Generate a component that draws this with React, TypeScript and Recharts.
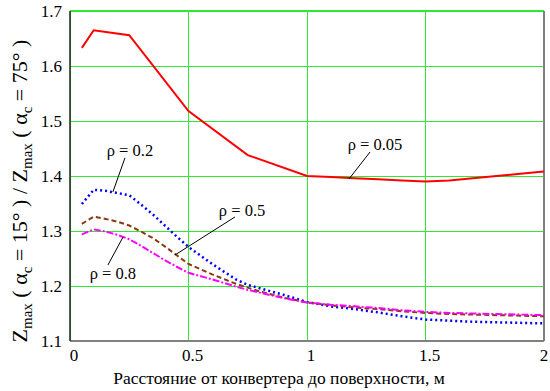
import React from "react";
import {
  CartesianGrid,
  Line,
  LineChart,
  ReferenceDot,
  ReferenceLine,
  XAxis,
  YAxis
} from "recharts";

// distance from converter to surface, m
const distRed = [0.05, 0.1, 0.25, 0.5, 0.75, 1.0, 1.1, 1.2, 1.3, 1.4, 1.5, 1.6, 1.7, 1.8, 1.9, 2.0];
const zRho005 = [1.633, 1.665, 1.656, 1.518, 1.438, 1.4, 1.398, 1.396, 1.394, 1.392, 1.39, 1.392, 1.396, 1.4, 1.404, 1.408];

const dist = [
  0.05, 0.1, 0.15, 0.2, 0.25, 0.3, 0.35, 0.4, 0.45, 0.5, 0.6, 0.7, 0.75, 0.8, 0.9, 1.0,
  1.1, 1.2, 1.3, 1.4, 1.5, 1.6, 1.7, 1.8, 1.9, 2.0
];
const zRho02 = [
  1.349, 1.375, 1.373, 1.369, 1.365, 1.348, 1.33, 1.31, 1.29, 1.271, 1.24, 1.212, 1.202, 1.196, 1.184, 1.171,
  1.163, 1.158, 1.152, 1.145, 1.139, 1.137, 1.135, 1.134, 1.133, 1.132
];
const zRho05 = [
  1.313, 1.326, 1.322, 1.317, 1.31, 1.299, 1.287, 1.272, 1.256, 1.24, 1.221, 1.204, 1.197, 1.19, 1.179, 1.17,
  1.165, 1.161, 1.158, 1.154, 1.151, 1.149, 1.148, 1.147, 1.146, 1.145
];
const zRho08 = [
  1.294, 1.303, 1.299, 1.293, 1.285, 1.273, 1.26, 1.247, 1.235, 1.224, 1.212, 1.199, 1.193, 1.188, 1.178, 1.17,
  1.166, 1.163, 1.16, 1.156, 1.153, 1.151, 1.15, 1.149, 1.148, 1.147
];

const xTicks = [0, 0.5, 1, 1.5, 2];
const yTicks = [1.1, 1.2, 1.3, 1.4, 1.5, 1.6, 1.7];

// label text, text anchor point, leader line start/end
const notes = [
  { text: "ρ = 0.2", at: [0.253, 1.447], from: [0.232, 1.433], to: [0.181, 1.371] },
  { text: "ρ = 0.5", at: [0.726, 1.337], from: [0.696, 1.3255], to: [0.443, 1.2564] },
  { text: "ρ = 0.8", at: [0.181, 1.2227], from: [0.16, 1.2382], to: [0.224, 1.2891] },
  { text: "ρ = 0.05", at: [1.287, 1.4564], from: [1.266, 1.4436], to: [1.177, 1.3945] }
];

const toPoints = (xs: number[], ys: number[]) => xs.map((x, i) => ({ x, y: ys[i] }));

const FONT = "Liberation Serif, Times New Roman, DejaVu Serif, serif";
const GREEN = "#30e830";

const series = [
  { key: "r005", data: toPoints(distRed, zRho005), color: "#ff0000", dash: undefined, width: 2 },
  { key: "r02", data: toPoints(dist, zRho02), color: "#0000ff", dash: "2 3", width: 2.5 },
  { key: "r05", data: toPoints(dist, zRho05), color: "#8b3a0f", dash: "5 3", width: 2 },
  { key: "r08", data: toPoints(dist, zRho08), color: "#ff00ff", dash: "7 2 2 2", width: 2 }
];

function YTitle({ viewBox }: any) {
  const cy = viewBox.y + viewBox.height / 2 + 15;
  const main = 22;
  const sub = 15;
  return (
    <text
      transform={`translate(27, ${cy}) rotate(-90)`}
      textAnchor="middle"
      style={{ fontFamily: FONT, fontSize: main }}
      fill="#000"
    >
      <tspan>Z</tspan>
      <tspan style={{ fontSize: sub }} dy={5}>max</tspan>
      <tspan dy={-5}> ( </tspan>
      <tspan>α</tspan>
      <tspan style={{ fontSize: sub }} dy={5}>c</tspan>
      <tspan dy={-5}> = 15° ) / </tspan>
      <tspan>Z</tspan>
      <tspan style={{ fontSize: sub }} dy={5}>max</tspan>
      <tspan dy={-5}> ( </tspan>
      <tspan>α</tspan>
      <tspan style={{ fontSize: sub }} dy={5}>c</tspan>
      <tspan dy={-5}> = 75° )</tspan>
    </text>
  );
}

function XTitle({ viewBox }: any) {
  return (
    <text
      x={viewBox.x + viewBox.width / 2 - 28}
      y={viewBox.y + 43}
      textAnchor="middle"
      style={{ fontFamily: FONT, fontSize: 17.5 }}
      fill="#000"
    >
      Расстояние от конвертера до поверхности, м
    </text>
  );
}

function XTick({ x, y, payload, index }: any) {
  // last label sits right on the edge; keep it inside the picture
  const shift = index === xTicks.length - 1 ? 0 : 4;
  return (
    <text x={x + shift} y={y} dy="0.71em" textAnchor="middle" style={{ fontFamily: FONT, fontSize: 17 }} fill="#000">
      {payload.value}
    </text>
  );
}

function YTick({ x, y, payload }: any) {
  return (
    <text x={x} y={y} dy="0.355em" textAnchor="end" style={{ fontFamily: FONT, fontSize: 17 }} fill="#000">
      {payload.value.toFixed(1)}
    </text>
  );
}

export default function App() {
  return (
    <div style={{ position: "absolute", left: 0, top: 0, background: "#fff" }}>
      <LineChart width={550} height={391} margin={{ top: 11, right: 6, bottom: 20, left: 0 }}>
        <CartesianGrid stroke={GREEN} strokeWidth={1} shapeRendering="crispEdges" />
        <XAxis
          type="number"
          dataKey="x"
          domain={[0, 2]}
          ticks={xTicks}
          allowDuplicatedCategory={false}
          height={30}
          tickLine={false}
          axisLine={{ stroke: "#808080", strokeWidth: 2 }}
          tick={<XTick />}
          label={<XTitle />}
        />
        <YAxis
          type="number"
          domain={[1.1, 1.7]}
          ticks={yTicks}
          width={70}
          tickLine={false}
          axisLine={{ stroke: "#222", strokeWidth: 1.5 }}
          tick={<YTick />}
          label={<YTitle />}
        />
        <ReferenceLine y={1.7} stroke={GREEN} strokeWidth={2} />
        <ReferenceLine x={2} stroke="#808080" strokeWidth={2} />
        {series.map((s) => (
          <Line
            key={s.key}
            data={s.data}
            dataKey="y"
            type="linear"
            stroke={s.color}
            strokeWidth={s.width}
            strokeDasharray={s.dash}
            dot={false}
            isAnimationActive={false}
          />
        ))}
        {notes.map((n) => (
          <ReferenceLine
            key={"l" + n.text}
            segment={[
              { x: n.from[0], y: n.from[1] },
              { x: n.to[0], y: n.to[1] }
            ]}
            stroke="#000"
            strokeWidth={1}
          />
        ))}
        {notes.map((n) => (
          <ReferenceDot
            key={"t" + n.text}
            x={n.at[0]}
            y={n.at[1]}
            shape={(p: any) => (
              <text
                x={p.cx}
                y={p.cy}
                textAnchor="middle"
                dominantBaseline="central"
                style={{ fontFamily: FONT, fontSize: 16.5 }}
                fill="#000"
              >
                {n.text}
              </text>
            )}
          />
        ))}
      </LineChart>
    </div>
  );
}
